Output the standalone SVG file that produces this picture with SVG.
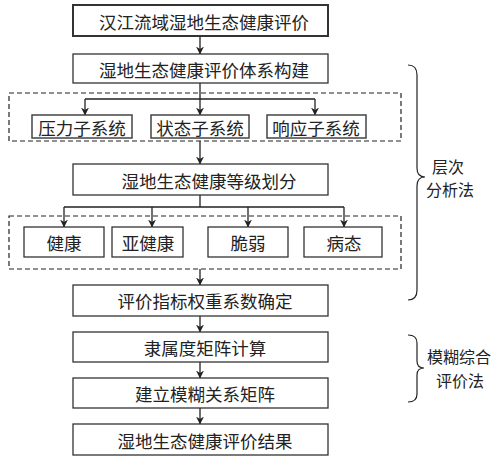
<svg xmlns="http://www.w3.org/2000/svg" width="499" height="463" viewBox="0 0 499 463">
<defs>
<marker id="ah" markerWidth="8" markerHeight="9" refX="7.5" refY="4" orient="auto" markerUnits="userSpaceOnUse">
<path d="M0,0 L8,4 L0,8 L2.5,4 Z" fill="#222"/>
</marker>
<style>
.box{fill:#fff;stroke:#333;stroke-width:1.3}
.sub{fill:#fff;stroke:#444;stroke-width:1.5}
.dash{fill:none;stroke:#222;stroke-width:1.2;stroke-dasharray:5,3}
.t{font-family:"Noto Sans CJK SC","Noto Sans",sans-serif;font-size:17.5px;fill:#222;text-anchor:middle;dominant-baseline:central}
.s{font-size:16px}
.ln{fill:none;stroke:#222;stroke-width:1.3}
.ar{fill:none;stroke:#222;stroke-width:1.3;marker-end:url(#ah)}
.br{fill:none;stroke:#222;stroke-width:1.2}
</style>
</defs>
<rect width="499" height="463" fill="#fff"/>
<g id="groups">
<rect class="dash" x="9" y="93" width="392" height="48"/>
<rect class="dash" x="9" y="216" width="392" height="53"/>
</g>
<g id="connectors">
<path class="ar" d="M200,36 V54"/>
<path class="ln" d="M200,83 V99 M85,99 H315"/>
<path class="ar" d="M85,99 V115"/>
<path class="ar" d="M200,99 V115"/>
<path class="ar" d="M315,99 V115"/>
<path class="ar" d="M200,141 V164"/>
<path class="ln" d="M200,195 V207 M64,207 H344"/>
<path class="ar" d="M64,207 V227"/>
<path class="ar" d="M152,207 V227"/>
<path class="ar" d="M248,207 V227"/>
<path class="ar" d="M344,207 V227"/>
<path class="ar" d="M200,269 V285"/>
<path class="ar" d="M200,316 V332"/>
<path class="ar" d="M200,362 V378"/>
<path class="ar" d="M200,408 V424"/>
</g>
<g id="n1"><rect class="box" x="73" y="5" width="255" height="31" style="stroke-width:2"/><text class="t" x="204" y="21">汉江流域湿地生态健康评价</text></g>
<g id="n2"><rect class="box" x="73" y="54" width="255" height="29"/><text class="t" x="204" y="69">湿地生态健康评价体系构建</text></g>
<g id="n3"><rect class="sub" x="32" y="115" width="100" height="23"/><text class="t" x="82" y="127">压力子系统</text></g>
<g id="n4"><rect class="sub" x="151" y="115" width="98" height="23"/><text class="t" x="200" y="127">状态子系统</text></g>
<g id="n5"><rect class="sub" x="267" y="115" width="99" height="23"/><text class="t" x="316" y="127">响应子系统</text></g>
<g id="n6"><rect class="box" x="73" y="164" width="255" height="31"/><text class="t" x="209" y="180">湿地生态健康等级划分</text></g>
<g id="n7"><rect class="box" x="24" y="227" width="80" height="30"/><text class="t" x="64" y="242">健康</text></g>
<g id="n8"><rect class="box" x="112" y="227" width="71" height="30"/><text class="t" x="148" y="242">亚健康</text></g>
<g id="n9"><rect class="box" x="208" y="227" width="80" height="30"/><text class="t" x="248" y="242">脆弱</text></g>
<g id="n10"><rect class="box" x="304" y="227" width="78" height="30"/><text class="t" x="344" y="242">病态</text></g>
<g id="n11"><rect class="box" x="73" y="285" width="255" height="31"/><text class="t" x="205" y="300">评价指标权重系数确定</text></g>
<g id="n12"><rect class="box" x="73" y="332" width="255" height="30"/><text class="t" x="205" y="347">隶属度矩阵计算</text></g>
<g id="n13"><rect class="box" x="73" y="378" width="255" height="30"/><text class="t" x="205" y="393">建立模糊关系矩阵</text></g>
<g id="n14"><rect class="box" x="73" y="424" width="255" height="31"/><text class="t" x="205" y="440">湿地生态健康评价结果</text></g>
<g id="brace1">
<path class="br" d="M408,65 Q417,65 417,75 V168 Q417,177 425,177 Q417,177 417,186 V290 Q417,300 408,300"/>
<text class="t s" x="448" y="166">层次</text>
<text class="t s" x="450" y="189">分析法</text>
</g>
<g id="brace2">
<path class="br" d="M408,335 Q417,335 417,343 V361 Q417,368 424,368 Q417,368 417,375 V394 Q417,402 408,402"/>
<text class="t s" x="459" y="356">模糊综合</text>
<text class="t s" x="460" y="380">评价法</text>
</g>
</svg>
